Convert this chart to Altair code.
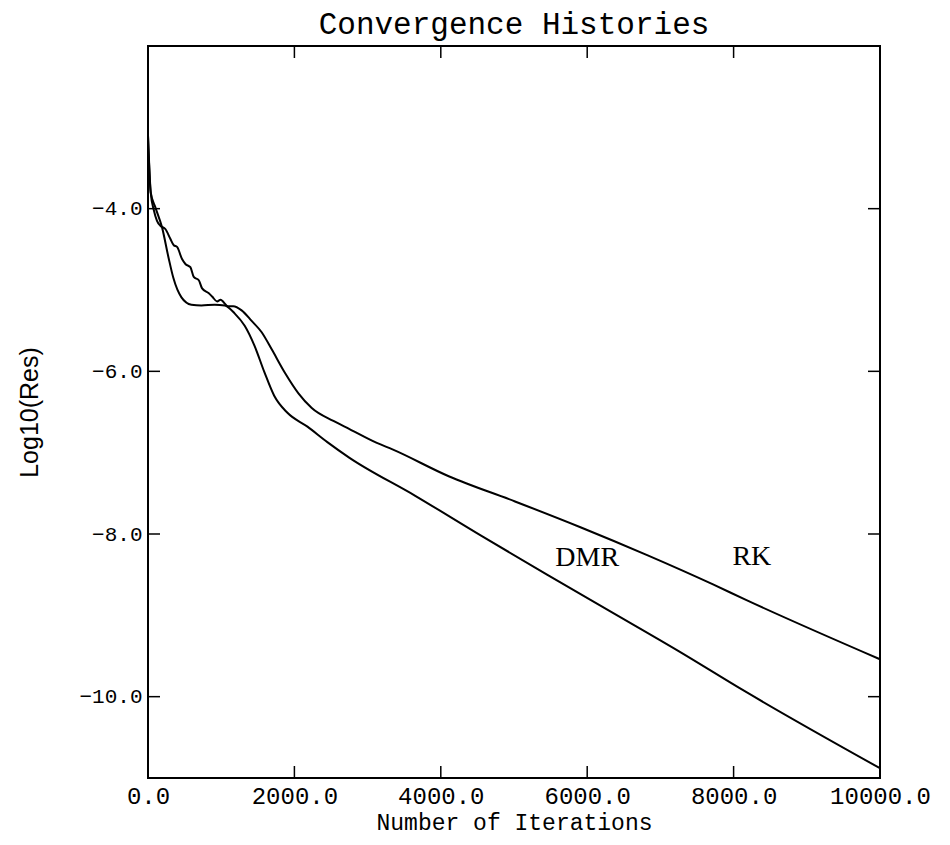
import altair as alt
import pandas as pd

# ---- data ----
dmr_iter = [0, 37, 103, 192, 280, 346, 457, 593, 730, 912, 1049, 1186, 1321,
            1457, 1590, 1724, 1905, 2178, 2450, 2748, 3651, 4550, 5451, 6351,
            7249, 8147, 10000]
dmr_log = [-3.10, -3.80, -3.99, -4.23, -4.60, -4.85, -5.09, -5.18, -5.19, -5.18,
           -5.19, -5.29, -5.44, -5.69, -6.01, -6.30, -6.51, -6.68, -6.87, -7.06,
           -7.53, -8.02, -8.50, -8.97, -9.44, -9.93, -10.88]

rk_iter = [0, 37, 80, 123, 169, 237, 305, 352, 397, 465, 511, 579, 625, 694,
           739, 831, 876, 944, 990, 1096, 1165, 1279, 1416, 1553, 1690, 1872,
           2055, 2237, 2533, 2753, 3126, 3340, 4108, 5014, 5916, 6819, 7719,
           8169, 10000]
rk_log = [-3.10, -3.80, -4.02, -4.15, -4.21, -4.25, -4.37, -4.45, -4.47, -4.62,
          -4.68, -4.72, -4.84, -4.88, -4.98, -5.04, -5.08, -5.14, -5.12, -5.20,
          -5.20, -5.25, -5.38, -5.52, -5.73, -6.02, -6.27, -6.45, -6.61, -6.71,
          -6.88, -6.96, -7.29, -7.60, -7.92, -8.26, -8.62, -8.81, -9.54]

label_text = ["RK", "DMR"]
label_iter = [8250, 6000]
label_log = [-8.28, -8.30]

x_tick_values = [0, 2000, 4000, 6000, 8000, 10000]
x_inner_ticks = [2000, 4000, 6000, 8000]
y_tick_values = [-4, -6, -8, -10]

X_DOMAIN = [0, 10000]
Y_DOMAIN = [-11, -2]

W, H = 732, 732
TICK_PX = 12

# ---- tables ----
curves = pd.concat([
    pd.DataFrame({"iter": dmr_iter, "res": dmr_log, "series": "DMR"}),
    pd.DataFrame({"iter": rk_iter, "res": rk_log, "series": "RK"}),
], ignore_index=True)
labels = pd.DataFrame({"iter": label_iter, "res": label_log, "text": label_text})
xt = pd.DataFrame({"iter": x_inner_ticks})
yt = pd.DataFrame({"res": y_tick_values})

xs = alt.Scale(domain=X_DOMAIN, nice=False, zero=False)
ys = alt.Scale(domain=Y_DOMAIN, nice=False, zero=False)

x_axis = alt.Axis(
    values=x_tick_values, format=".1f", domain=False, ticks=False, grid=False,
    tickSize=0, labelFont="Liberation Mono", labelFontSize=24, labelColor="black",
    labelPadding=6, labelFlush=False, labelOverlap=False,
    title="Number of Iterations", titleFont="Liberation Mono", titleFontSize=23,
    titleFontWeight="normal", titleColor="black", titlePadding=3,
)
y_axis = alt.Axis(
    values=y_tick_values, format=".1f", domain=False, ticks=False, grid=False,
    tickSize=0, labelFont="Liberation Mono", labelFontSize=21, labelColor="black",
    labelPadding=6, labelFlush=False, labelOverlap=False,
    title="Log10(Res)", titleFont="Liberation Sans", titleFontSize=25,
    titleFontWeight="normal", titleColor="black", titlePadding=36,
)


def X(field):
    return alt.X(field, scale=xs, axis=x_axis)


def Y(field):
    return alt.Y(field, scale=ys, axis=y_axis)


lines = alt.Chart(curves).mark_line(
    color="black", strokeWidth=2, interpolate="monotone"
).encode(
    x=X("iter:Q"),
    y=Y("res:Q"),
    detail="series:N",
)

text = alt.Chart(labels).mark_text(
    font="Liberation Serif", fontSize=28, color="black"
).encode(
    x=X("iter:Q"),
    y=Y("res:Q"),
    text="text:N",
)

tick_style = dict(color="black", strokeWidth=1.5)

bottom_ticks = alt.Chart(xt).mark_rule(**tick_style).encode(
    x=X("iter:Q"),
    y=alt.value(H), y2=alt.value(H - TICK_PX),
)
top_ticks = alt.Chart(xt).mark_rule(**tick_style).encode(
    x=X("iter:Q"),
    y=alt.value(0), y2=alt.value(TICK_PX),
)
left_ticks = alt.Chart(yt).mark_rule(**tick_style).encode(
    y=Y("res:Q"),
    x=alt.value(0), x2=alt.value(TICK_PX),
)
right_ticks = alt.Chart(yt).mark_rule(**tick_style).encode(
    y=Y("res:Q"),
    x=alt.value(W), x2=alt.value(W - TICK_PX),
)

chart = alt.layer(
    lines, text, bottom_ticks, top_ticks, left_ticks, right_ticks
).properties(
    width=W, height=H,
    background="white",
    title=alt.TitleParams(
        "Convergence Histories", font="Liberation Mono", fontSize=31,
        fontWeight="normal", color="black", anchor="middle", offset=4,
    ),
    autosize=alt.AutoSizeParams(type="none"),
    padding={"left": 140, "top": 38, "right": 60, "bottom": 64},
).configure_view(
    stroke="black", strokeWidth=2
)

chart.save("out.html", embed_options={"renderer": "svg", "actions": False})
